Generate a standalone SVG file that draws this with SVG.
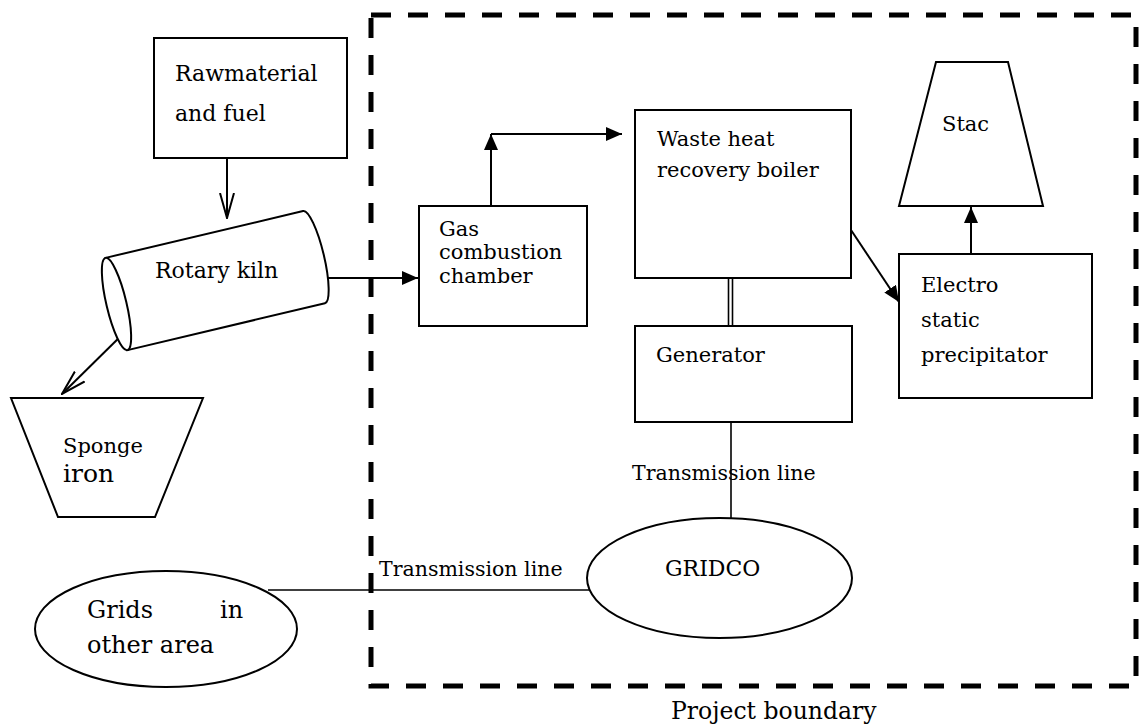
<svg xmlns="http://www.w3.org/2000/svg" width="1139" height="724" viewBox="0 0 1139 724">
<style>
.s{fill:#fff;stroke:#000;stroke-width:2}
.t{font-family:"DejaVu Serif","Liberation Serif",serif;font-size:21px;fill:#000}
.c{fill:none;stroke:#000;stroke-width:2}
.tl{fill:none;stroke:#000;stroke-width:1.6}
</style>
<defs>
<marker id="fa" viewBox="0 0 16 14" refX="16" refY="7" markerWidth="16" markerHeight="14" markerUnits="userSpaceOnUse" orient="auto"><path d="M0,0 L16,7 L0,14 Z" fill="#000"/></marker>
<marker id="oa" viewBox="0 0 26 16" refX="25" refY="8" markerWidth="26" markerHeight="16" markerUnits="userSpaceOnUse" orient="auto"><path d="M0,1 L25,8 L0,15" fill="none" stroke="#000" stroke-width="2"/></marker>
</defs>
<rect id="boundary" x="371" y="15" width="765" height="671" fill="none" stroke="#000" stroke-width="5" stroke-dasharray="20 17"/>
<text class="t" x="671" y="719" style="font-size:23.5px">Project boundary</text>
<g id="connectors">
<line class="c" x1="227" y1="158" x2="227" y2="218" marker-end="url(#oa)"/>
<line class="c" x1="130" y1="327" x2="62" y2="394" marker-end="url(#oa)"/>
<line class="c" x1="325" y1="278" x2="418" y2="278" marker-end="url(#fa)"/>
<line class="c" x1="491" y1="206" x2="491" y2="134" marker-end="url(#fa)"/>
<line class="c" x1="491" y1="134" x2="622" y2="134" marker-end="url(#fa)"/>
<line class="c" x1="851" y1="230" x2="899" y2="302" marker-end="url(#fa)"/>
<line class="c" x1="971" y1="254" x2="971" y2="207" marker-end="url(#fa)"/>
<line class="tl" x1="728.5" y1="278" x2="728.5" y2="326"/>
<line class="tl" x1="732.5" y1="278" x2="732.5" y2="326"/>
<line class="tl" x1="731" y1="422" x2="731" y2="518"/>
<line class="tl" x1="590" y1="590" x2="268" y2="590"/>
<text class="t" x="632" y="480" style="font-size:20.5px">Transmission line</text>
<text class="t" x="379" y="576" style="font-size:20.5px">Transmission line</text>
</g>
<g id="rawmaterial">
<rect class="s" x="154" y="38" width="193" height="120"/>
<text class="t" x="175" y="81" style="font-size:22px">Rawmaterial</text>
<text class="t" x="175" y="121" style="font-size:22px">and fuel</text>
</g>
<g id="rotary-kiln">
<g transform="translate(116.5,304) rotate(-13.35)">
<path class="s" d="M0,-47.4 L203,-47.4 A10,47.4 0 0 1 203,47.4 L0,47.4 Z"/>
<ellipse class="s" cx="0" cy="0" rx="10" ry="47.4"/>
</g>
<text class="t" x="155" y="278" style="font-size:22px">Rotary kiln</text>
</g>
<g id="sponge-iron">
<polygon class="s" points="11,398 203,398 155,517 58,517"/>
<text class="t" x="63" y="453">Sponge</text>
<text class="t" x="63" y="482" style="font-size:25px">iron</text>
</g>
<g id="gas-combustion">
<rect class="s" x="419" y="206" width="168" height="120"/>
<text class="t" x="439" y="236">Gas</text>
<text class="t" x="439" y="259">combustion</text>
<text class="t" x="439" y="283">chamber</text>
</g>
<g id="waste-heat-boiler">
<rect class="s" x="635" y="110" width="216" height="168"/>
<text class="t" x="657" y="146">Waste heat</text>
<text class="t" x="657" y="177">recovery boiler</text>
</g>
<g id="stac">
<polygon class="s" points="936,62 1008,62 1043,206 899,206"/>
<text class="t" x="942" y="131">Stac</text>
</g>
<g id="esp">
<rect class="s" x="899" y="254" width="193" height="144"/>
<text class="t" x="921" y="292">Electro</text>
<text class="t" x="921" y="327">static</text>
<text class="t" x="921" y="362">precipitator</text>
</g>
<g id="generator">
<rect class="s" x="635" y="326" width="217" height="96"/>
<text class="t" x="656" y="362">Generator</text>
</g>
<g id="gridco">
<ellipse class="s" cx="719.5" cy="578" rx="132.5" ry="60"/>
<text class="t" x="665" y="576" style="font-size:22px">GRIDCO</text>
</g>
<g id="grids-other">
<ellipse class="s" cx="166" cy="629" rx="131" ry="58"/>
<text class="t" x="87" y="618" style="font-size:24px">Grids</text>
<text class="t" x="220" y="618" style="font-size:24px">in</text>
<text class="t" x="87" y="653" style="font-size:24px">other area</text>
</g>
</svg>
